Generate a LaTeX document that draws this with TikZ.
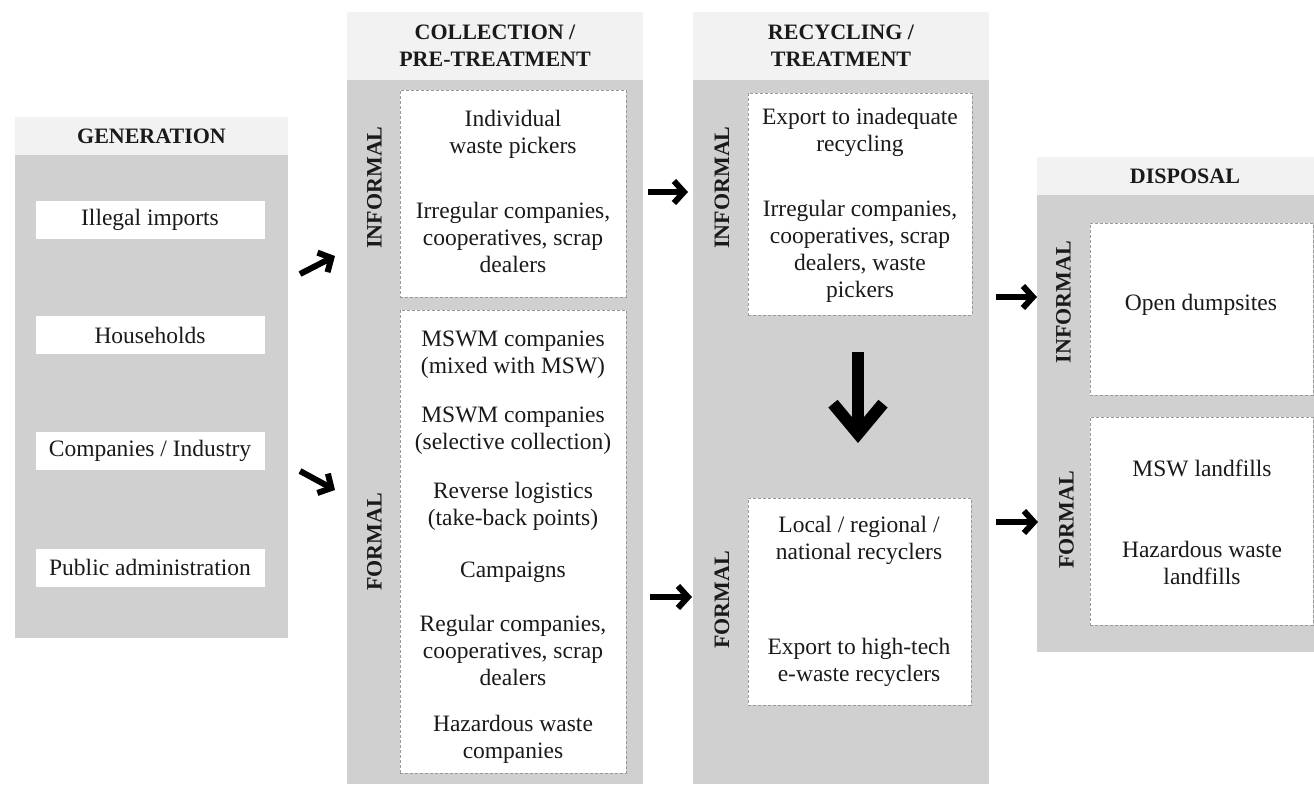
\documentclass[tikz,border=0pt]{standalone}
\usepackage{fontspec}
\setmainfont{Liberation Serif}
\usetikzlibrary{arrows.meta}
\definecolor{colbody}{HTML}{D0D0D0}
\definecolor{colhead}{HTML}{F2F2F2}
\definecolor{dashc}{HTML}{999999}
\definecolor{txt}{HTML}{1A1A1A}
\begin{document}
\begin{tikzpicture}[x=0.5pt,y=-0.5pt,
 every node/.style={inner sep=0pt,outer sep=0pt,text=txt},
 head/.style={fill=colhead,font=\bfseries\fontsize{11}{13.5}\selectfont,align=center},
 body/.style={fill=colbody},
 genbox/.style={fill=white,minimum width=114.5pt,minimum height=19pt,font=\fontsize{11.75}{13.5}\selectfont},
 dbox/.style={fill=white,draw=dashc,dash pattern=on 1.5pt off 1pt,line width=0.4pt},
 txtnode/.style={align=center,font=\fontsize{11.75}{13.5}\selectfont},
 side/.style={rotate=90,font=\bfseries\fontsize{11}{13}\selectfont},
 arr/.style={line width=3pt,-{Straight Barb[length=5pt,width=11pt]}},
 bigarr/.style={line width=6pt,-{Straight Barb[length=15pt,width=25pt]}}
]
\useasboundingbox (0,0) rectangle (1314,784);
\fill[white] (0,0) rectangle (1314,784);

% ---------- GENERATION ----------
\node[head,minimum width=136.5pt,minimum height=19pt] (ghead) at (151.5,136) {GENERATION};
\node[body,minimum width=136.5pt,minimum height=241.5pt] (gbody) at (151.5,396.5) {};
\node[genbox] (g1) at (150,220) {Illegal imports};
\node[genbox] (g2) at (150,335) {Households};
\node[genbox] (g3) at (150,450.5) {Companies / Industry};
\node[genbox] (g4) at (150,567.5) {Public administration};

% ---------- COLLECTION ----------
\node[head,minimum width=148pt,minimum height=34pt] (chead) at (495,46) {COLLECTION /\\PRE-TREATMENT};
\node[body,minimum width=148pt,minimum height=352pt] (cbody) at (495,432) {};
\node[dbox,minimum width=113pt,minimum height=103.5pt] (cinf) at (513,193.5) {};
\node[dbox,minimum width=113pt,minimum height=231.5pt] (cfor) at (513,541.5) {};
\node[side] (cinfl) at (374.5,187.5) {INFORMAL};
\node[side] (cforl) at (374.5,542) {FORMAL};
\node[txtnode] (c1) at (513,134) {Individual\\waste pickers};
\node[txtnode] (c2) at (513,237) {Irregular companies,\\cooperatives, scrap\\dealers};
\node[txtnode] (c3) at (513,355) {MSWM companies\\(mixed with MSW)};
\node[txtnode] (c4) at (513,431) {MSWM companies\\(selective collection)};
\node[txtnode] (c5) at (513,506) {Reverse logistics\\(take-back points)};
\node[txtnode] (c6) at (513,572) {Campaigns};
\node[txtnode] (c7) at (513,650) {Regular companies,\\cooperatives, scrap\\dealers};
\node[txtnode] (c8) at (513,739) {Hazardous waste\\companies};

% ---------- RECYCLING ----------
\node[head,minimum width=148pt,minimum height=34pt] (rhead) at (841,46) {RECYCLING /\\TREATMENT};
\node[body,minimum width=148pt,minimum height=352pt] (rbody) at (841,432) {};
\node[dbox,minimum width=112pt,minimum height=111pt] (rinf) at (860,204) {};
\node[dbox,minimum width=111.5pt,minimum height=103.5pt] (rfor) at (859.5,601.5) {};
\node[side] (rinfl) at (722,187.5) {INFORMAL};
\node[side] (rforl) at (722,600) {FORMAL};
\node[txtnode] (r1) at (860,132) {Export to inadequate\\recycling};
\node[txtnode] (r2) at (860,251) {Irregular companies,\\cooperatives, scrap\\dealers, waste\\pickers};
\node[txtnode] (r3) at (859,540) {Local / regional /\\national recyclers};
\node[txtnode] (r4) at (859,662) {Export to high-tech\\e-waste recyclers};

% ---------- DISPOSAL ----------
\node[head,minimum width=148pt,minimum height=19pt] (dhead) at (1185,176) {DISPOSAL};
\node[body,minimum width=148pt,minimum height=228.5pt] (dbody) at (1185,423.5) {};
\node[dbox,minimum width=111.5pt,minimum height=86pt] (dinf) at (1201.5,309) {};
\node[dbox,minimum width=111.5pt,minimum height=104pt] (dfor) at (1201.5,521) {};
\node[side] (dinfl) at (1063.5,302) {INFORMAL};
\node[side] (dforl) at (1066.5,520) {FORMAL};
\node[txtnode] (d1) at (1201,305) {Open dumpsites};
\node[txtnode] (d2) at (1202,468) {MSW landfills};
\node[txtnode] (d3) at (1202,563) {Hazardous waste\\landfills};

% ---------- ARROWS ----------
\coordinate (a1s) at (300,274); \coordinate (a1e) at (335,256);
\coordinate (a2s) at (300,471); \coordinate (a2e) at (335,490);
\coordinate (a3s) at (648,192); \coordinate (a3e) at (688,192);
\coordinate (a4s) at (650,597); \coordinate (a4e) at (692,597);
\coordinate (a5s) at (996,297); \coordinate (a5e) at (1037,297);
\coordinate (a6s) at (996,522); \coordinate (a6e) at (1038,522);
\coordinate (a7s) at (858,352); \coordinate (a7e) at (858,443);
\draw[arr] (a1s) -- (a1e);
\draw[arr] (a2s) -- (a2e);
\draw[arr] (a3s) -- (a3e);
\draw[arr] (a4s) -- (a4e);
\draw[arr] (a5s) -- (a5e);
\draw[arr] (a6s) -- (a6e);
\draw[bigarr] (a7s) -- (a7e);
\end{tikzpicture}
\end{document}
